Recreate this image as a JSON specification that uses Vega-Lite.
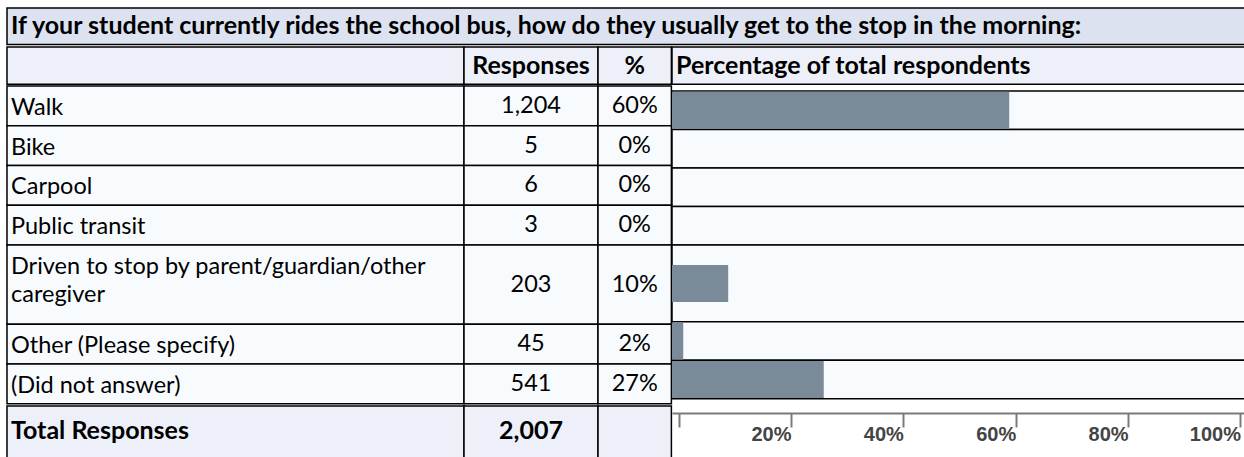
{
  "$schema": "https://vega.github.io/schema/vega-lite/v6.json",
  "padding": {"left": 6, "top": 7, "right": 0, "bottom": 0},
  "background": "white",
  "spacing": 0,
  "config": {
    "view": {"stroke": null},
    "font": "Lato",
    "text": {"font": "Lato", "fontSize": 23.5, "color": "#000"},
    "concat": {"spacing": 0}
  },
  "datasets": {
    "rows": [
      {"answer": "Walk", "responses": 1204, "share": 0.60, "lines": 1},
      {"answer": "Bike", "responses": 5, "share": 0, "lines": 1},
      {"answer": "Carpool", "responses": 6, "share": 0, "lines": 1},
      {"answer": "Public transit", "responses": 3, "share": 0, "lines": 1},
      {"answer": "Driven to stop by parent/guardian/other\ncaregiver", "responses": 203, "share": 0.10, "lines": 2},
      {"answer": "Other (Please specify)", "responses": 45, "share": 0.02, "lines": 1},
      {"answer": "(Did not answer)", "responses": 541, "share": 0.27, "lines": 1}
    ]
  },
  "vconcat": [
    {
      "width": 1238, "height": 36.5,
      "view": {"fill": "#dce2f0", "stroke": "#000", "strokeWidth": 1.5},
      "data": {"values": [{"question": "If your student currently rides the school bus, how do they usually get to the stop in the morning:"}]},
      "mark": {"type": "text", "align": "left", "baseline": "middle", "dx": 4, "fontWeight": "bold", "fontSize": 25},
      "encoding": {
        "x": {"datum": 0, "type": "quantitative", "scale": {"domain": [0, 1], "nice": false}, "axis": null},
        "text": {"field": "question"}
      }
    },
    {
      "bounds": "flush",
      "spacing": 0,
      "hconcat": [
        {
          "width": 457, "height": 37.2,
          "view": {"fill": "#edf0f8", "stroke": "#000", "strokeWidth": 1.5},
          "data": {"values": [{"h": ""}]},
          "mark": {"type": "text", "fontWeight": "bold"},
          "encoding": {"text": {"field": "h"}}
        },
        {
          "width": 134, "height": 37.2,
          "view": {"fill": "#edf0f8", "stroke": "#000", "strokeWidth": 1.5},
          "data": {"values": [{"h": "Responses"}]},
          "mark": {"type": "text", "fontWeight": "bold", "fontSize": 25, "align": "center", "baseline": "middle"},
          "encoding": {"text": {"field": "h"}}
        },
        {
          "width": 73.4, "height": 37.2,
          "view": {"fill": "#edf0f8", "stroke": "#000", "strokeWidth": 1.5},
          "data": {"values": [{"h": "%"}]},
          "mark": {"type": "text", "fontWeight": "bold", "fontSize": 25, "align": "center", "baseline": "middle"},
          "encoding": {"text": {"field": "h"}}
        },
        {
          "width": 573.3, "height": 37.2,
          "view": {"fill": "#edf0f8", "stroke": "#000", "strokeWidth": 1.5},
          "data": {"values": [{"h": "Percentage of total respondents"}]},
          "mark": {"type": "text", "fontWeight": "bold", "fontSize": 25, "align": "left", "baseline": "middle", "dx": 4},
          "encoding": {
            "x": {"datum": 0, "type": "quantitative", "scale": {"domain": [0, 1], "nice": false}, "axis": null},
            "text": {"field": "h"}
          }
        }
      ]
    },
    {
      "bounds": "flush",
      "spacing": 0,
      "hconcat": [
        {
          "width": 457, "height": 317.8,
          "data": {"name": "rows"},
          "transform": [
            {"stack": "lines", "groupby": [], "offset": "zero", "as": ["start", "end"]}
          ],
          "layer": [
            {
              "mark": {"type": "rect", "fill": "#f8fbfe", "stroke": "#000", "strokeWidth": 1.5},
              "encoding": {
                "y": {"field": "start", "type": "quantitative", "scale": {"domain": [0, 8], "reverse": true, "nice": false, "zero": false}, "axis": null},
                "y2": {"field": "end"},
                "x": {"datum": 0, "type": "quantitative", "scale": {"domain": [0, 1], "nice": false}, "axis": null},
                "x2": {"datum": 1}
              }
            },
            {
              "mark": {"type": "text", "align": "left", "baseline": "middle", "dx": 4, "dy": 22, "lineBreak": "\n", "lineHeight": 28},
              "encoding": {
                "y": {"field": "start", "type": "quantitative"},
                "x": {"datum": 0, "type": "quantitative"},
                "text": {"field": "answer"}
              }
            }
          ]
        },
        {
          "width": 134, "height": 317.8,
          "data": {"name": "rows"},
          "transform": [
            {"stack": "lines", "groupby": [], "offset": "zero", "as": ["start", "end"]}
          ],
          "layer": [
            {
              "mark": {"type": "rect", "fill": "#f8fbfe", "stroke": "#000", "strokeWidth": 1.5},
              "encoding": {
                "y": {"field": "start", "type": "quantitative", "scale": {"domain": [0, 8], "reverse": true, "nice": false, "zero": false}, "axis": null},
                "y2": {"field": "end"},
                "x": {"datum": 0, "type": "quantitative", "scale": {"domain": [0, 1], "nice": false}, "axis": null},
                "x2": {"datum": 1}
              }
            },
            {
              "transform": [
                {"fold": ["start", "end"], "as": ["edge", "pos"]},
                {"aggregate": [{"op": "mean", "field": "pos", "as": "mid"}], "groupby": ["answer", "responses", "share"]}
              ],
              "mark": {"type": "text", "align": "center", "baseline": "middle"},
              "encoding": {
                "y": {"field": "mid", "type": "quantitative"},
                "x": {"datum": 0.5, "type": "quantitative"},
                "text": {"field": "responses", "type": "quantitative", "format": ",d"}
              }
            }
          ]
        },
        {
          "width": 73.4, "height": 317.8,
          "data": {"name": "rows"},
          "transform": [
            {"stack": "lines", "groupby": [], "offset": "zero", "as": ["start", "end"]}
          ],
          "layer": [
            {
              "mark": {"type": "rect", "fill": "#f8fbfe", "stroke": "#000", "strokeWidth": 1.5},
              "encoding": {
                "y": {"field": "start", "type": "quantitative", "scale": {"domain": [0, 8], "reverse": true, "nice": false, "zero": false}, "axis": null},
                "y2": {"field": "end"},
                "x": {"datum": 0, "type": "quantitative", "scale": {"domain": [0, 1], "nice": false}, "axis": null},
                "x2": {"datum": 1}
              }
            },
            {
              "transform": [
                {"fold": ["start", "end"], "as": ["edge", "pos"]},
                {"aggregate": [{"op": "mean", "field": "pos", "as": "mid"}], "groupby": ["answer", "responses", "share"]}
              ],
              "mark": {"type": "text", "align": "center", "baseline": "middle"},
              "encoding": {
                "y": {"field": "mid", "type": "quantitative"},
                "x": {"datum": 0.5, "type": "quantitative"},
                "text": {"field": "share", "type": "quantitative", "format": ".0%"}
              }
            }
          ]
        },
        {
          "width": 573.3, "height": 317.8,
          "data": {"name": "rows"},
          "transform": [
            {"stack": "lines", "groupby": [], "offset": "zero", "as": ["start", "end"]}
          ],
          "layer": [
            {
              "mark": {"type": "rect", "fill": "#f8fbfe", "stroke": "#000", "strokeWidth": 1.5},
              "encoding": {
                "y": {"field": "start", "type": "quantitative", "scale": {"domain": [0, 8], "reverse": true, "nice": false, "zero": false}, "axis": null},
                "y2": {"field": "end"},
                "x": {"datum": 0, "type": "quantitative", "scale": {"domain": [0, 1.02], "nice": false, "zero": false}, "axis": null},
                "x2": {"datum": 1.02}
              }
            },
            {
              "transform": [
                {"fold": ["start", "end"], "as": ["edge", "pos"]},
                {"aggregate": [{"op": "mean", "field": "pos", "as": "mid"}], "groupby": ["answer", "responses", "share"]}
              ],
              "mark": {"type": "bar", "orient": "horizontal", "size": 37, "color": "#7b8a98"},
              "encoding": {
                "y": {"field": "mid", "type": "quantitative"},
                "x": {"field": "share", "type": "quantitative"}
              }
            }
          ]
        }
      ]
    },
    {
      "bounds": "flush",
      "spacing": 0,
      "hconcat": [
        {
          "width": 457, "height": 54.5,
          "view": {"fill": "#edf0f8", "stroke": "#000", "strokeWidth": 1.5},
          "data": {"values": [{"label": "Total Responses"}]},
          "mark": {"type": "text", "fontWeight": "bold", "fontSize": 25, "align": "left", "baseline": "middle", "dx": 4, "dy": -2},
          "encoding": {
            "x": {"datum": 0, "type": "quantitative", "scale": {"domain": [0, 1], "nice": false}, "axis": null},
            "text": {"field": "label"}
          }
        },
        {
          "width": 134, "height": 54.5,
          "view": {"fill": "#edf0f8", "stroke": "#000", "strokeWidth": 1.5},
          "data": {"values": [{"total": 2007}]},
          "mark": {"type": "text", "fontWeight": "bold", "fontSize": 25, "align": "center", "baseline": "middle", "dy": -2},
          "encoding": {"text": {"field": "total", "type": "quantitative", "format": ",d"}}
        },
        {
          "width": 73.4, "height": 54.5,
          "view": {"fill": "#edf0f8", "stroke": "#000", "strokeWidth": 1.5},
          "data": {"values": [{"h": ""}]},
          "mark": {"type": "text"},
          "encoding": {"text": {"field": "h"}}
        },
        {
          "width": 573.3, "height": 7.0,
          "data": {"values": [{"tick": 0}]},
          "mark": {"type": "rule", "opacity": 0},
          "encoding": {
            "x": {
              "field": "tick", "type": "quantitative",
              "scale": {"domain": [-0.0118, 1.0086], "nice": false, "zero": false},
              "axis": {
                "orient": "bottom", "values": [0, 0.2, 0.4, 0.6, 0.8, 1], "format": ".0%",
                "labelExpr": "datum.value == 0 ? '' : datum.label",
                "title": null, "grid": false,
                "tickSize": 14, "tickWidth": 2, "tickColor": "#7a7a7a",
                "domainColor": "#7a7a7a", "domainWidth": 2,
                "labelAlign": "right", "labelBaseline": "top", "labelPadding": -3,
                "labelFont": "Liberation Sans", "labelFontWeight": "bold", "labelFontSize": 20,
                "labelColor": "#444", "labelFlush": false, "labelOverlap": false
              }
            }
          }
        }
      ]
    }
  ]
}
